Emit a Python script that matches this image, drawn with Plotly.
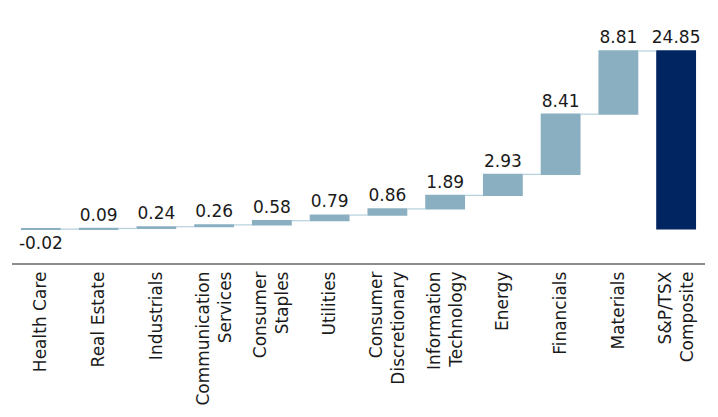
import plotly.graph_objects as go

categories = ["Health Care", "Real Estate", "Industrials", "Communication<br>Services",
              "Consumer<br>Staples", "Utilities", "Consumer<br>Discretionary",
              "Information<br>Technology", "Energy", "Financials", "Materials",
              "S&P/TSX<br>Composite"]
values = [-0.02, 0.09, 0.24, 0.26, 0.58, 0.79, 0.86, 1.89, 2.93, 8.41, 8.81, 24.85]
measures = ["relative"] * 11 + ["total"]
labels = [f"{v:.2f}" for v in values]

bar_color = "#8AAFC0"
total_color = "#002561"

fig = go.Figure(go.Waterfall(
    x=categories,
    y=values,
    measure=measures,
    text=labels,
    textposition="outside",
    constraintext="none",
    textfont=dict(size=17, color="#1a1a1a", family="DejaVu Sans"),
    increasing=dict(marker=dict(color=bar_color)),
    decreasing=dict(marker=dict(color=bar_color)),
    totals=dict(marker=dict(color=total_color)),
    connector=dict(line=dict(color="#B3D0DC", width=1.2)),
    width=0.69,
    cliponaxis=False,
))

fig.update_layout(
    width=718, height=417,
    margin=dict(l=4, r=21, t=6, b=162),
    paper_bgcolor="white", plot_bgcolor="white",
    showlegend=False,
    font=dict(family="DejaVu Sans", color="#1a1a1a"),
    xaxis=dict(range=[-0.5, 11.5], tickangle=-90, showgrid=False,
               showline=True, linecolor="#8C8C8C", linewidth=1.5,
               ticks="", tickfont=dict(size=17), automargin=False),
    yaxis=dict(range=[-4.75, 30], visible=False, showgrid=False, zeroline=False),
)

fig.write_html("out.html")
